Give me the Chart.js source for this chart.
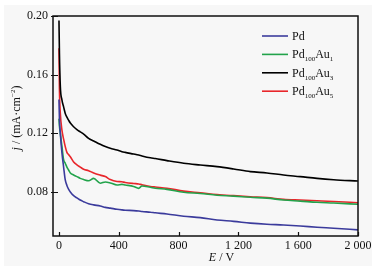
<!DOCTYPE html>
<html>
<head>
<meta charset="utf-8">
<script src="https://cdn.jsdelivr.net/npm/chart.js@4/dist/chart.umd.min.js"></script>
<style>
  html, body { margin: 0; padding: 0; background: #ffffff; }
  #wrap { width: 376px; height: 273px; }
</style>
</head>
<body>
<div id="wrap"><canvas id="currentChart" width="376" height="273"></canvas></div>
<script>
// potential E / V (shared sampling for all curves)
const xValues = [0, 3, 9, 20, 31, 42, 53, 64, 76, 98, 120, 142, 165, 198, 232, 276, 310, 343, 388, 421,
  443, 499, 533, 555, 611, 644, 722, 834, 945, 1057, 1168, 1280, 1391, 1502, 1614, 1726, 1837, 2000];

// current density j / (mA·cm-2)
const pdValues = [0.143, 0.130, 0.120, 0.1064, 0.097, 0.0882, 0.0845, 0.082, 0.080, 0.0775, 0.076, 0.0745, 0.0734,
  0.072, 0.0712, 0.0705, 0.0695, 0.069, 0.0682, 0.0678, 0.0676, 0.0673, 0.067, 0.0667, 0.0662, 0.0658, 0.065,
  0.0635, 0.0625, 0.0609, 0.060, 0.0588, 0.058, 0.0575, 0.0568, 0.056, 0.0553, 0.0542];
const pdAu1Values = [0.130, 0.125, 0.120, 0.1109, 0.102, 0.0996, 0.097, 0.095, 0.093, 0.0916, 0.0905, 0.0893, 0.0885,
  0.0877, 0.0893, 0.086, 0.0868, 0.0862, 0.0848, 0.0852, 0.0848, 0.0838, 0.0825, 0.0841, 0.0832, 0.0826, 0.0818,
  0.0798, 0.079, 0.0778, 0.0772, 0.0764, 0.0758, 0.0745, 0.0738, 0.073, 0.0725, 0.0716];
const pdAu3Values = [0.197, 0.175, 0.152, 0.1427, 0.138, 0.1336, 0.131, 0.129, 0.127, 0.1245, 0.1225, 0.121, 0.1195,
  0.1166, 0.1148, 0.1125, 0.111, 0.1098, 0.1086, 0.1075, 0.107, 0.1059, 0.1052, 0.1046, 0.1033, 0.1028, 0.1014,
  0.0996, 0.0984, 0.0973, 0.0957, 0.0939, 0.093, 0.0916, 0.0905, 0.0893, 0.0884, 0.0875];
const pdAu5Values = [0.178, 0.150, 0.1336, 0.122, 0.116, 0.1109, 0.107, 0.1055, 0.104, 0.1005, 0.0985, 0.097, 0.0955,
  0.0945, 0.093, 0.0915, 0.0905, 0.0885, 0.0872, 0.087, 0.0865, 0.0858, 0.0855, 0.085, 0.0838, 0.0834, 0.0826,
  0.0806, 0.0795, 0.0783, 0.0775, 0.0768, 0.0762, 0.075, 0.0745, 0.074, 0.0735, 0.0727];

// _{..} = subscript, ^{..} = superscript, *..* = italic
const seriesNames = ['Pd', 'Pd_{100}Au_{1}', 'Pd_{100}Au_{3}', 'Pd_{100}Au_{5}'];
const seriesValues = [pdValues, pdAu1Values, pdAu3Values, pdAu5Values];
const seriesColors = ['#3b3b9c', '#22a34b', '#000000', '#e8262b'];

const xTicks = [0, 400, 800, 1200, 1600, 2000];
const xTickLabels = ['0', '400', '800', '1 200', '1 600', '2 000'];
const yTicks = [0.08, 0.12, 0.16, 0.20];
const yTickLabels = ['0.08', '0.12', '0.16', '0.20'];
const xTitle = '*E* / V';
const yTitle = '*j* / (mA·cm^{−2})';

const FONT = '"Liberation Serif", "Times New Roman", serif';
const INK = '#111111';

function parseRich(text) {
  return text.split(/(_\{[^}]*\}|\^\{[^}]*\}|\*[^*]*\*)/).filter(s => s.length).map(s => {
    if (s.startsWith('_{')) return { t: s.slice(2, -1), kind: 'sub' };
    if (s.startsWith('^{')) return { t: s.slice(2, -1), kind: 'sup' };
    if (s.startsWith('*')) return { t: s.slice(1, -1), kind: 'it' };
    return { t: s, kind: 'n' };
  });
}

function partFont(p, size) {
  const small = p.kind === 'sub' || p.kind === 'sup';
  return `${p.kind === 'it' ? 'italic ' : ''}${small ? Math.round(size * 0.62) : size}px ${FONT}`;
}

// draws mixed text; align 'left' or 'center', baseline alphabetic
function drawRich(ctx, text, x, y, size, align) {
  const parts = parseRich(text);
  let total = 0;
  parts.forEach(p => { ctx.font = partFont(p, size); p.w = ctx.measureText(p.t).width; total += p.w; });
  let cx = align === 'center' ? x - total / 2 : x;
  ctx.textAlign = 'left';
  ctx.textBaseline = 'alphabetic';
  parts.forEach(p => {
    ctx.font = partFont(p, size);
    let dy = 0;
    if (p.kind === 'sub') dy = size * 0.25;
    if (p.kind === 'sup') dy = -size * 0.4;
    ctx.fillText(p.t, cx, y + dy);
    cx += p.w;
  });
}

const decorations = {
  id: 'decorations',
  beforeDraw(chart) {
    const ctx = chart.ctx;
    ctx.save();
    ctx.fillStyle = '#f7f7f7';
    ctx.fillRect(4, 5, 368, 261);
    ctx.restore();
  },
  afterDraw(chart) {
    const ctx = chart.ctx;
    const a = chart.chartArea;
    const xs = chart.scales.x, ys = chart.scales.y;
    ctx.save();
    ctx.strokeStyle = INK;
    ctx.lineWidth = 1.5;
    ctx.strokeRect(a.left, a.top, a.right - a.left, a.bottom - a.top);
    ctx.lineWidth = 1.2;
    ctx.beginPath();
    xTicks.forEach(v => {
      const px = Math.round(xs.getPixelForValue(v)) + 0.5;
      ctx.moveTo(px, a.bottom);
      ctx.lineTo(px, a.bottom - 4);
    });
    yTicks.forEach(v => {
      const py = Math.round(ys.getPixelForValue(v)) + 0.5;
      ctx.moveTo(a.left - 2, py);
      ctx.lineTo(a.left + 5, py);
    });
    ctx.stroke();

    // legend
    ctx.fillStyle = INK;
    seriesNames.forEach((name, i) => {
      const ly = a.top + 20 + i * 18.4;
      ctx.strokeStyle = seriesColors[i];
      ctx.lineWidth = 1.6;
      ctx.beginPath();
      ctx.moveTo(a.right - 96, ly);
      ctx.lineTo(a.right - 70, ly);
      ctx.stroke();
      drawRich(ctx, name, a.right - 66, ly + 4, 12, 'left');
    });

    // axis titles
    drawRich(ctx, xTitle, a.left + (a.right - a.left) / 2 + 16, 261, 12, 'center');
    ctx.translate(16, a.top + (a.bottom - a.top) / 2 - 8);
    ctx.rotate(-Math.PI / 2);
    drawRich(ctx, yTitle, 0, 4, 12, 'center');
    ctx.restore();
  }
};

new Chart(document.getElementById('currentChart'), {
  type: 'line',
  data: {
    datasets: seriesNames.map((name, i) => ({
      label: name,
      data: xValues.map((x, k) => ({ x: x, y: seriesValues[i][k] })),
      borderColor: seriesColors[i],
      backgroundColor: seriesColors[i],
      borderWidth: 1.6,
      pointRadius: 0,
      cubicInterpolationMode: 'monotone',
      fill: false
    }))
  },
  options: {
    responsive: false,
    animation: false,
    layout: { padding: { left: 0, right: 18, top: 16, bottom: 0 } },
    plugins: { legend: { display: false }, tooltip: { enabled: false } },
    scales: {
      x: {
        type: 'linear',
        min: -40,
        max: 2000,
        grid: { display: false, drawTicks: false },
        border: { display: false },
        afterBuildTicks: (scale) => { scale.ticks = xTicks.map(v => ({ value: v })); },
        afterFit: (scale) => { scale.height = 37; },
        ticks: {
          color: INK,
          padding: 3,
          maxRotation: 0,
          autoSkip: false,
          font: { family: FONT, size: 12 },
          callback: (v) => xTickLabels[xTicks.indexOf(v)]
        }
      },
      y: {
        type: 'linear',
        min: 0.05,
        max: 0.20,
        grid: { display: false, drawTicks: false },
        border: { display: false },
        afterBuildTicks: (scale) => { scale.ticks = yTicks.map(v => ({ value: v })); },
        afterFit: (scale) => { scale.width = 53; },
        ticks: {
          color: INK,
          padding: 5,
          autoSkip: false,
          font: { family: FONT, size: 12 },
          callback: (v) => yTickLabels[yTicks.indexOf(v)]
        }
      }
    }
  },
  plugins: [decorations]
});
</script>
</body>
</html>
